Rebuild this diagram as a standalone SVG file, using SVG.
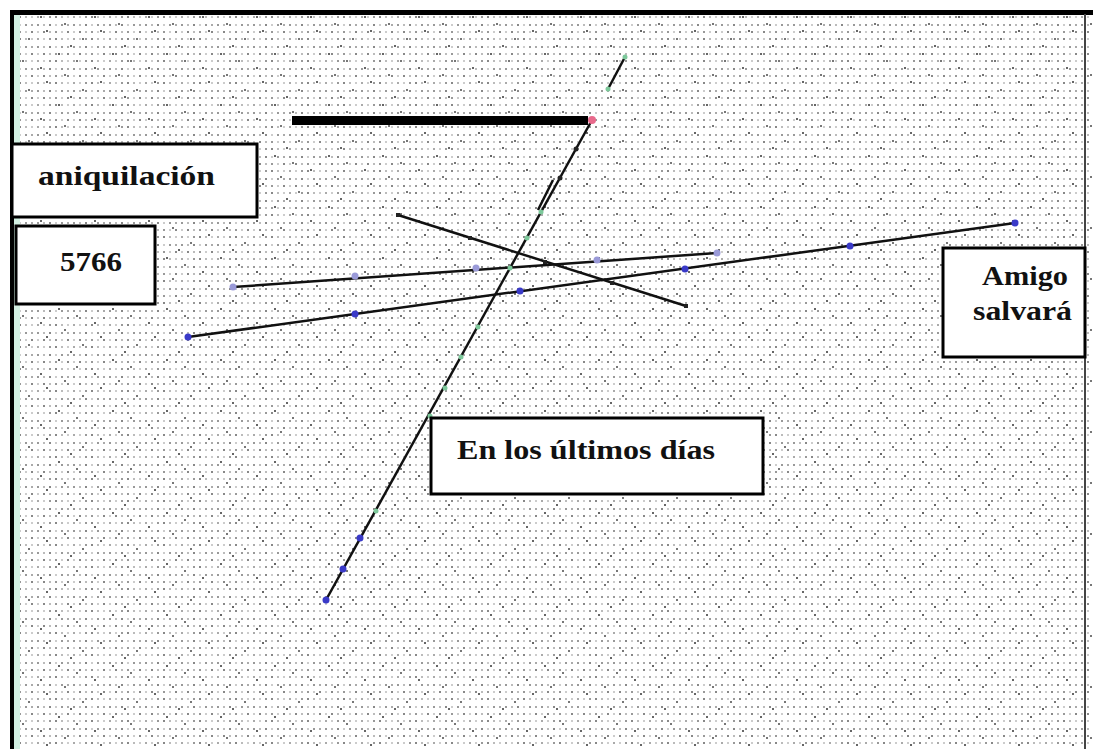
<svg xmlns="http://www.w3.org/2000/svg" width="1093" height="749" viewBox="0 0 1093 749">
<style>
.box{fill:#fff;stroke:#000;stroke-width:3}
.lbl{font-family:"Liberation Serif","Times New Roman",serif;font-weight:bold;font-size:27px;fill:#111}
.ln{stroke:#111;stroke-width:2.5;fill:none}
.dk{fill:#222}
.bl{fill:#3a3ac8}
.lb{fill:#9a9ad8}
.gr{fill:#7cc89a}
</style>
<defs>
<pattern id="bg1" width="36" height="22" patternUnits="userSpaceOnUse">
<rect x="1" y="2" width="2" height="2" fill="#999"/>
<rect x="7" y="2" width="2" height="2" fill="#bbb"/>
<rect x="13" y="2" width="2" height="2" fill="#888"/>
<rect x="19" y="2" width="2" height="2" fill="#ccc"/>
<rect x="25" y="2" width="2" height="2" fill="#999"/>
<rect x="31" y="2" width="2" height="2" fill="#aaa"/>
<rect x="1" y="9" width="2" height="2" fill="#ccc"/>
<rect x="7" y="9" width="2" height="2" fill="#888"/>
<rect x="13" y="9" width="2" height="2" fill="#bbb"/>
<rect x="19" y="9" width="2" height="2" fill="#999"/>
<rect x="25" y="9" width="2" height="2" fill="#ccc"/>
<rect x="31" y="9" width="2" height="2" fill="#888"/>
<rect x="1" y="16" width="2" height="2" fill="#aaa"/>
<rect x="7" y="16" width="2" height="2" fill="#ccc"/>
<rect x="13" y="16" width="2" height="2" fill="#999"/>
<rect x="19" y="16" width="2" height="2" fill="#888"/>
<rect x="25" y="16" width="2" height="2" fill="#bbb"/>
<rect x="31" y="16" width="2" height="2" fill="#ccc"/>
</pattern>
<pattern id="bg2" width="54" height="51" patternUnits="userSpaceOnUse">
<rect x="4" y="2" width="2" height="2" fill="#666"/>
<rect x="22" y="9" width="2" height="2" fill="#777"/>
<rect x="40" y="16" width="2" height="2" fill="#666"/>
<rect x="10" y="23" width="2" height="2" fill="#777"/>
<rect x="46" y="30" width="2" height="2" fill="#666"/>
<rect x="28" y="38" width="2" height="2" fill="#777"/>
<rect x="16" y="45" width="2" height="2" fill="#666"/>
</pattern>
</defs>
<rect width="1093" height="749" fill="#fff"/>
<g id="background">
<rect x="14" y="14" width="1079" height="735" fill="url(#bg1)"/>
<rect x="14" y="14" width="1079" height="735" fill="url(#bg2)"/>
<rect x="14" y="14" width="6" height="735" fill="#d2f0e2"/>
<rect x="10" y="10" width="1083" height="5" fill="#000"/>
<rect x="10" y="10" width="4" height="739" fill="#000"/>
<rect x="1084" y="14" width="2" height="735" fill="#444"/>
</g>
<g id="connectors">
<rect x="292" y="116" width="296" height="9" fill="#000"/>
<line class="ln" x1="326" y1="600" x2="592" y2="120"/>
<line class="ln" x1="538" y1="210" x2="553" y2="180"/>
<line class="ln" x1="608" y1="89" x2="625" y2="57"/>
<line class="ln" x1="398" y1="215" x2="686" y2="306"/>
<line class="ln" x1="233" y1="287" x2="717" y2="253"/>
<line class="ln" x1="188" y1="337" x2="1015" y2="223"/>
</g>
<g id="dots">
<circle class="bl" cx="326" cy="600" r="3.5"/>
<circle class="bl" cx="343" cy="569" r="3.5"/>
<circle class="bl" cx="360" cy="538" r="3.5"/>
<circle class="gr" cx="376" cy="511" r="2.5"/>
<circle class="gr" cx="430" cy="416" r="2.5"/>
<circle class="gr" cx="445" cy="388" r="2.5"/>
<circle class="gr" cx="461" cy="357" r="2.5"/>
<circle class="gr" cx="478" cy="327" r="2.5"/>
<circle class="gr" cx="510" cy="268" r="2.5"/>
<circle class="gr" cx="527" cy="238" r="2.5"/>
<circle class="gr" cx="541" cy="212" r="2.5"/>
<circle class="dk" cx="560" cy="178" r="2.5"/>
<circle class="dk" cx="576" cy="149" r="2.5"/>
<circle fill="#e86a8c" cx="592" cy="120" r="4"/>
<circle class="gr" cx="608" cy="89" r="2.5"/>
<circle class="gr" cx="625" cy="57" r="2.5"/>
<rect class="dk" x="396" y="213" width="4" height="4"/>
<rect class="dk" x="468" y="236" width="4" height="4"/>
<rect class="dk" x="543" y="260" width="4" height="4"/>
<rect class="dk" x="610" y="281" width="4" height="4"/>
<rect class="dk" x="684" y="304" width="4" height="4"/>
<circle class="lb" cx="233" cy="287" r="3.5"/>
<circle class="lb" cx="355" cy="276" r="3.5"/>
<circle class="lb" cx="476" cy="268" r="3.5"/>
<circle class="lb" cx="597" cy="260" r="3.5"/>
<circle class="lb" cx="717" cy="253" r="3.5"/>
<circle class="bl" cx="188" cy="337" r="3.5"/>
<circle class="bl" cx="355" cy="314" r="3.5"/>
<circle class="bl" cx="520" cy="291" r="3.5"/>
<circle class="bl" cx="685" cy="269" r="3.5"/>
<circle class="bl" cx="850" cy="246" r="3.5"/>
<circle class="bl" cx="1015" cy="223" r="3.5"/>
</g>
<g id="node-aniquilacion">
<rect class="box" x="12" y="144" width="245" height="73"/>
<text class="lbl" x="38" y="185" textLength="177" lengthAdjust="spacingAndGlyphs">aniquilación</text>
</g>
<g id="node-5766">
<rect class="box" x="16" y="226" width="139" height="78"/>
<text class="lbl" x="60" y="271" textLength="62" lengthAdjust="spacingAndGlyphs">5766</text>
</g>
<g id="node-amigo">
<rect class="box" x="943" y="248" width="142" height="109"/>
<text class="lbl" x="982" y="285" textLength="86" lengthAdjust="spacingAndGlyphs">Amigo</text>
<text class="lbl" x="973" y="320" textLength="99" lengthAdjust="spacingAndGlyphs">salvará</text>
</g>
<g id="node-ultimos">
<rect class="box" x="431" y="418" width="332" height="76"/>
<text class="lbl" x="457" y="459" textLength="258" lengthAdjust="spacingAndGlyphs">En los últimos días</text>
</g>
</svg>
